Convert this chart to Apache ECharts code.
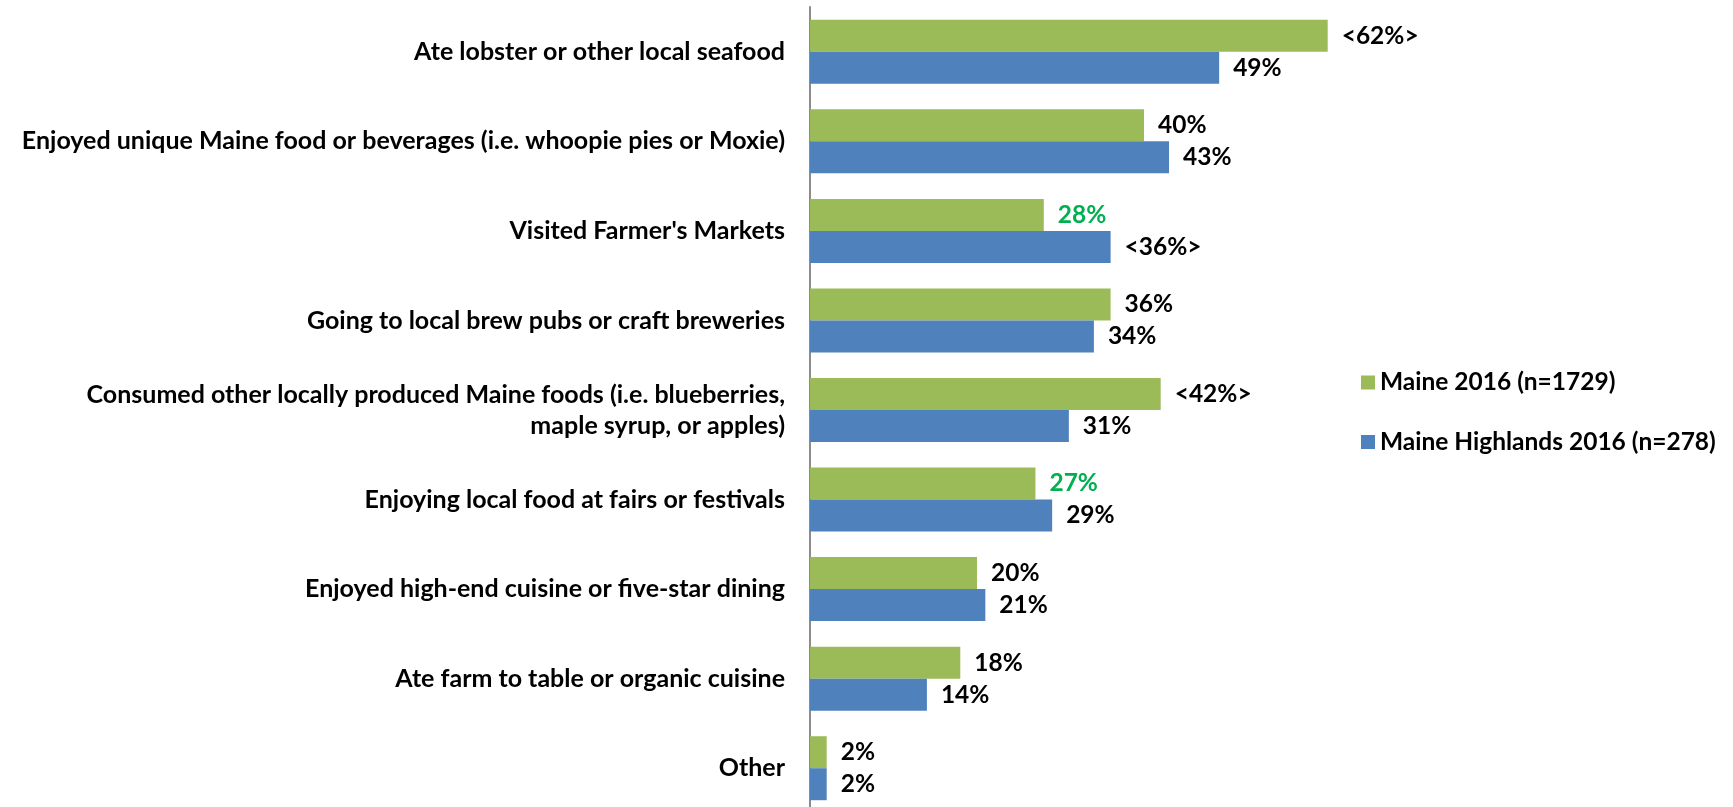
<!DOCTYPE html>
<html>
<head>
<meta charset="utf-8">
<script src="https://cdn.jsdelivr.net/npm/echarts@6/dist/echarts.min.js"></script>
<style>
  html, body { margin: 0; padding: 0; background: #fff; }
  #chart { width: 1733px; height: 807px; }
</style>
</head>
<body>
<div id="chart"></div>
<script>
// Food & beverage activities, share of visitors (%)
const categories = [
  'Ate lobster or other local seafood',
  'Enjoyed unique Maine food or beverages (i.e. whoopie pies or Moxie)',
  "Visited Farmer's Markets",
  'Going to local brew pubs or craft breweries',
  'Consumed other locally produced Maine foods (i.e. blueberries,\nmaple syrup, or apples)',
  'Enjoying local food at fairs or festivals',
  'Enjoyed high-end cuisine or five-star dining',
  'Ate farm to table or organic cuisine',
  'Other'
];
const seriesNames = ['Maine 2016 (n=1729)', 'Maine Highlands 2016 (n=278)'];
const maine2016 = [62, 40, 28, 36, 42, 27, 20, 18, 2];
const highlands2016 = [49, 43, 36, 34, 31, 29, 21, 14, 2];
// significance marks: 'hi' = significantly higher (shown as <n%>), 'lo' = significantly lower (green)
const maineSig = ['hi', '', 'lo', '', 'hi', 'lo', '', '', ''];
const highlandsSig = ['', '', 'hi', '', '', '', '', '', ''];

const FONT = 'Lato';
const FS = 24.5;
const GREEN = '#9BBB59';
const BLUE = '#4F81BD';

function buildData(values, sig) {
  return values.map((v, i) => ({
    value: v,
    label: {
      formatter: sig[i] === 'hi' ? '<' + v + '%>' : v + '%',
      color: sig[i] === 'lo' ? '#00B050' : '#000'
    }
  }));
}

const labelStyle = {
  show: true,
  position: 'right',
  distance: 14,
  fontFamily: FONT,
  fontWeight: 'bold',
  fontSize: FS
};

const chart = echarts.init(document.getElementById('chart'), null, { renderer: 'canvas' });
chart.setOption({
  animation: false,
  backgroundColor: '#fff',
  legend: {
    orient: 'vertical',
    left: 1356,
    top: 365,
    itemWidth: 14,
    itemHeight: 14,
    itemGap: 34.5,
    icon: 'rect',
    textStyle: { fontFamily: FONT, fontWeight: 'bold', fontSize: FS, color: '#000' },
    data: seriesNames
  },
  grid: {
    left: 810, top: 7, width: 835, height: 806,
    containLabel: false,
    outerBoundsMode: 'none'
  },
  xAxis: {
    type: 'value',
    min: 0,
    max: 100,
    show: false,
    splitLine: { show: false }
  },
  yAxis: {
    type: 'category',
    inverse: true,
    data: categories,
    axisLine: { show: true, lineStyle: { color: '#8c8c8c', width: 2 } },
    axisTick: { show: false },
    axisLabel: {
      margin: 25,
      fontFamily: FONT,
      fontWeight: 'bold',
      fontSize: 25,
      color: '#000',
      lineHeight: 31,
      align: 'right'
    }
  },
  series: [
    {
      name: seriesNames[0],
      type: 'bar',
      barWidth: 32,
      barGap: '0%',
      itemStyle: { color: GREEN },
      label: labelStyle,
      data: buildData(maine2016, maineSig)
    },
    {
      name: seriesNames[1],
      type: 'bar',
      barWidth: 32,
      barGap: '0%',
      itemStyle: { color: BLUE },
      label: labelStyle,
      data: buildData(highlands2016, highlandsSig)
    }
  ]
});
</script>
</body>
</html>
